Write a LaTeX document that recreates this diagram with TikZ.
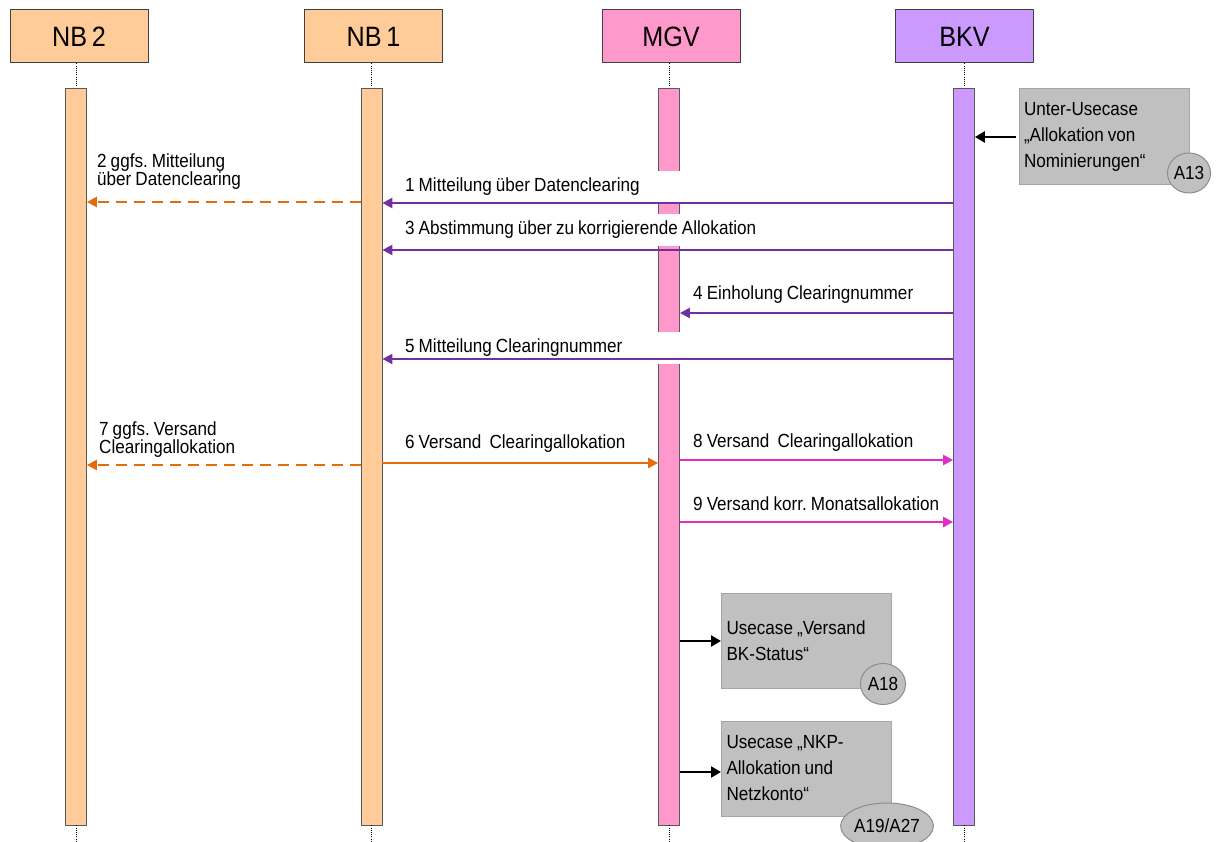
\documentclass[tikz,border=0pt]{standalone}
\usepackage{fontspec}
\setmainfont{Liberation Sans}[FakeStretch=0.9, WordSpace=0.85]
\usetikzlibrary{arrows.meta,shapes.geometric}
\frenchspacing
\definecolor{peach}{HTML}{FFCC99}
\definecolor{pinkc}{HTML}{FF99CC}
\definecolor{lav}{HTML}{CC99FF}
\definecolor{hdr}{HTML}{404040}
\definecolor{bardraw}{HTML}{595959}
\definecolor{purp}{HTML}{7030A0}
\definecolor{orng}{HTML}{E46C0A}
\definecolor{magc}{HTML}{E42DC4}
\definecolor{gfill}{HTML}{C0C0C0}
\definecolor{gborder}{HTML}{A6A6A6}
\definecolor{gcirc}{HTML}{8C8C8C}
\tikzset{
  head/.style={draw=hdr, line width=1pt, minimum width=138pt, minimum height=53pt, inner sep=0pt, font=\fontsize{28}{30}\selectfont},
  bar/.style={draw=bardraw, line width=0.8pt, minimum width=21pt, minimum height=737pt, inner sep=0pt},
  life/.style={line width=0.7pt, dash pattern=on 1pt off 1.2pt},
  lbl/.style={font=\fontsize{19}{17}\selectfont\frenchspacing, inner sep=0pt, anchor=west, align=left},
  cover/.style={fill=white, minimum height=32pt},
  msg/.style={line width=2.4pt, -{Triangle[length=10pt,width=10pt]}},
  dsh/.style={msg, dash pattern=on 11pt off 7pt},
  gbox/.style={draw=gborder, fill=gfill, line width=1pt, minimum height=96pt, align=left, inner xsep=5pt, inner ysep=0pt, font=\fontsize{19}{26}\selectfont},
  ell/.style={ellipse, draw=gcirc, fill=gfill, line width=1pt, inner sep=0pt, font=\fontsize{19}{20}\selectfont},
  blk/.style={line width=2.8pt, -{Triangle[length=10pt,width=11pt]}}
}
\newcommand{\gline}[1]{\makebox[160pt][l]{#1}}
\begin{document}
\begin{tikzpicture}[x=1pt,y=-1pt]
\useasboundingbox[fill=white] (0,0) rectangle (1216,842);
% headers
\node[head, fill=peach] (nb2) at (79,36.5) {NB\,2};
\node[head, fill=peach] (nb1) at (373.5,36.5) {NB\,1};
\node[head, fill=pinkc] (mgv) at (671,36.5) {MGV};
\node[head, fill=lav] (bkv) at (964.5,36.5) {BKV};
% bars
\node[bar, fill=peach] (nb2bar) at (76,456.5) {};
\node[bar, fill=peach] (nb1bar) at (371.5,456.5) {};
\node[bar, fill=pinkc] (mgvbar) at (669,456.5) {};
\node[bar, fill=lav] (bkvbar) at (964,456.5) {};
% lifelines
\coordinate (bot) at (0,842);
\foreach \b/\h in {nb2bar/nb2, nb1bar/nb1, mgvbar/mgv, bkvbar/bkv}{
  \draw[life] (\b.north |- \h.south) -- (\b.north);
  \draw[life] (\b.south) -- (\b.south |- bot);
}
% labels
\node[lbl, cover] (l1) at (405,187) {\makebox[285pt][l]{1 Mitteilung über Datenclearing}};
\node[lbl] (l2) at (97,171.5) {2 ggfs. Mitteilung\\über Datenclearing};
\node[lbl, cover] (l3) at (405,230) {\makebox[360pt][l]{3 Abstimmung über zu korrigierende Allokation}};
\node[lbl] (l4) at (693,295) {4 Einholung Clearingnummer};
\node[lbl, cover] (l5) at (405,348) {\makebox[285pt][l]{5 Mitteilung Clearingnummer}};
\node[lbl] (l6) at (405,444) {6 Versand\ \ Clearingallokation};
\node[lbl] (l7) at (99,439.5) {7 ggfs. Versand\\Clearingallokation};
\node[lbl] (l8) at (693,443) {8 Versand\ \ Clearingallokation};
\node[lbl] (l9) at (693,504) {9 Versand korr. Monatsallokation};
% grey boxes
\node[gbox] (a13) at (1104,137) {\gline{Unter-Usecase}\\„Allokation von\\Nominierungen“};
\node[ell, minimum width=43pt, minimum height=40pt] (c13) at (1189,173) {A13};
\node[gbox, minimum height=95pt] (a18) at (806.5,640.5) {\gline{Usecase „Versand}\\BK-Status“};
\node[ell, minimum width=45pt, minimum height=41pt] (c18) at (883,684) {A18};
\node[gbox, minimum height=95pt] (a19) at (806.5,768.5) {\gline{Usecase „NKP-}\\Allokation und\\Netzkonto“};
\node[ell, minimum width=74pt, minimum height=46pt] (c19) at (887,826) {A19/A27};
% messages
\draw[msg, purp] (bkvbar.west |- 0,203) -- (nb1bar.east |- 0,203);
\draw[dsh, orng] (nb1bar.west |- 0,202) -- (nb2bar.east |- 0,202);
\draw[msg, purp] (bkvbar.west |- 0,250) -- (nb1bar.east |- 0,250);
\draw[msg, purp] (bkvbar.west |- 0,313) -- (mgvbar.east |- 0,313);
\draw[msg, purp] (bkvbar.west |- 0,359) -- (nb1bar.east |- 0,359);
\draw[msg, orng] (nb1bar.east |- 0,463) -- (mgvbar.west |- 0,463);
\draw[dsh, orng] (nb1bar.west |- 0,465) -- (nb2bar.east |- 0,465);
\draw[msg, magc] (mgvbar.east |- 0,460) -- (bkvbar.west |- 0,460);
\draw[msg, magc] (mgvbar.east |- 0,522) -- (bkvbar.west |- 0,522);
% use case arrows
\draw[blk] ([xshift=-3pt]a13.west |- 0,137) -- (bkvbar.east |- 0,137);
\draw[blk] (mgvbar.east |- 0,641) -- (a18.west |- 0,641);
\draw[blk] (mgvbar.east |- 0,772) -- (a19.west |- 0,772);
\end{tikzpicture}
\end{document}
